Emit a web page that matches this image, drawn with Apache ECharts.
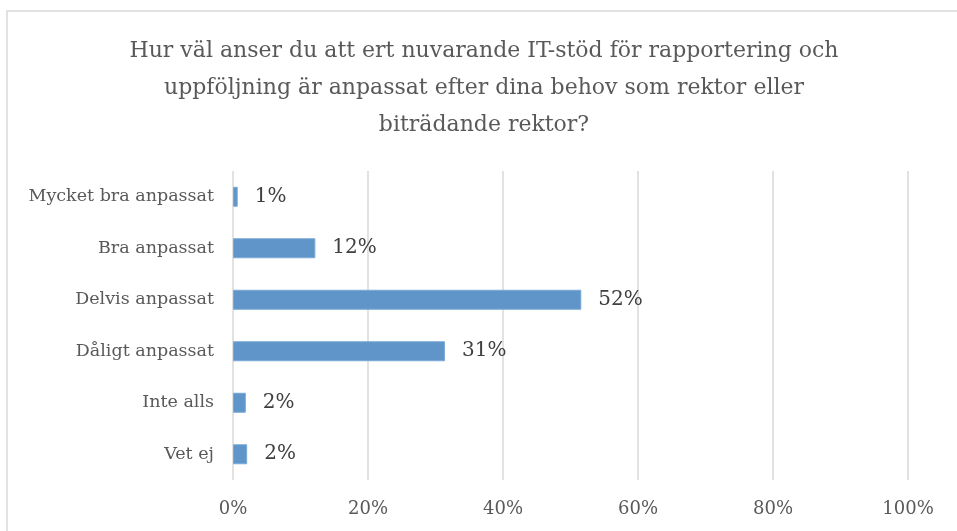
<!DOCTYPE html>
<html>
<head>
<meta charset="utf-8">
<script src="https://cdn.jsdelivr.net/npm/echarts@6/dist/echarts.min.js"></script>
<style>
  html, body { margin: 0; padding: 0; background: #fff; }
  #chart { width: 957px; height: 531px; }
</style>
</head>
<body>
<div id="chart"></div>
<script>
// svarsalternativ (uppifrån och ned)
var categories = ["Mycket bra anpassat", "Bra anpassat", "Delvis anpassat", "Dåligt anpassat", "Inte alls", "Vet ej"];
// andel i procent
var shares = [0.7, 12.2, 51.6, 31.4, 1.9, 2.1];
var xTicks = [0, 20, 40, 60, 80, 100];

var chart = echarts.init(document.getElementById("chart"));
chart.setOption({
  backgroundColor: "#fff",
  textStyle: { fontFamily: "DejaVu Serif" },
  title: {
    text: "Hur väl anser du att ert nuvarande IT-stöd för rapportering och\nuppföljning är anpassat efter dina behov som rektor eller\nbiträdande rektor?",
    left: 479,
    top: 28,
    textAlign: "center",
    textStyle: {
      fontFamily: "DejaVu Serif",
      fontWeight: "normal",
      fontSize: 22,
      lineHeight: 37,
      color: "#595959",
    },
  },
  graphic: [
    {
      // ram runt diagrammet
      type: "rect",
      shape: { x: 7, y: 11, width: 1000, height: 600 },
      style: { fill: "none", stroke: "#d9d9d9", lineWidth: 1.5 },
      silent: true,
    },
  ],
  grid: { left: 233, right: 49, top: 171, bottom: 51 },
  xAxis: {
    type: "value",
    min: xTicks[0],
    max: xTicks[xTicks.length - 1],
    interval: 20,
    axisLine: { show: false },
    axisTick: { show: false },
    axisLabel: {
      formatter: "{value}%",
      fontSize: 18,
      color: "#595959",
      margin: 20,
    },
    splitLine: { lineStyle: { color: "#d9d9d9", width: 1.5 } },
  },
  yAxis: {
    type: "category",
    data: categories,
    inverse: true,
    axisLine: { show: false },
    axisTick: { show: false },
    axisLabel: { fontSize: 17.5, color: "#595959", margin: 19 },
  },
  series: [
    {
      type: "bar",
      data: shares,
      barWidth: 20,
      itemStyle: { color: "#5f95c9", borderColor: "#7aa9d6", borderWidth: 1 },
      label: {
        show: true,
        position: "right",
        distance: 17,
        fontSize: 20,
        color: "#404040",
        formatter: function (p) {
          return Math.round(p.value) + "%";
        },
      },
    },
  ],
});
</script>
</body>
</html>
